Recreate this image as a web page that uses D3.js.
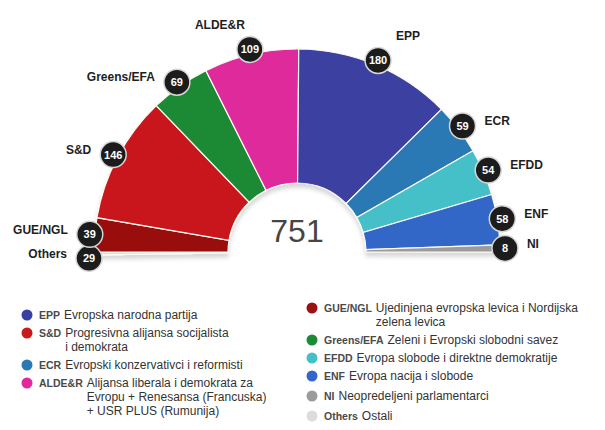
<!DOCTYPE html>
<html><head><meta charset="utf-8">
<script src="https://cdn.jsdelivr.net/npm/d3@7"></script>
<style>
body{margin:0;background:#fff}
svg{display:block;font-family:"Liberation Sans",Arial,sans-serif}
</style>
</head><body>
<svg id="chart" width="605" height="430"></svg>
<script>
// ---- data (left to right around the hemicycle; "Others" drawn as base band) ----
const parties = ["GUE/NGL","S&D","Greens/EFA","ALDE&R","EPP","ECR","EFDD","ENF","NI","Others"];
const seats   = [39, 146, 69, 109, 180, 59, 54, 58, 8, 29];
const colors  = ["#9a1111","#c8191c","#1c8a35","#de2a9b","#3a3fa1","#2a79b4","#45c0c9","#3266c7","#9b9b9b","#dcdcdc"];
const baseBand = ["Others"];
const legendLeft  = ["EPP","S&D","ECR","ALDE&R"];
const legendLeftText = [
  ["Evropska narodna partija"],
  ["Progresivna alijansa socijalista","i demokrata"],
  ["Evropski konzervativci i reformisti"],
  ["Alijansa liberala i demokrata za","Evropu + Renesansa (Francuska)","+ USR PLUS (Rumunija)"]
];
const legendRight = ["GUE/NGL","Greens/EFA","EFDD","ENF","NI","Others"];
const legendRightText = [
  ["Ujedinjena evropska levica i Nordijska","zelena levica"],
  ["Zeleni i Evropski slobodni savez"],
  ["Evropa slobode i direktne demokratije"],
  ["Evropa nacija i slobode"],
  ["Neopredeljeni parlamentarci"],
  ["Ostali"]
];

// ---- layout ----
const svg = d3.select("#chart");
const cx = 297, cy = 252, R = 203, r0 = 69;
const badgeR = 13, badgeDist = 208;
const colorOf = d3.scaleOrdinal().domain(parties).range(colors);

const defs = svg.append("defs");
const f = defs.append("filter").attr("id","sh").attr("x","-10%").attr("y","-10%").attr("width","120%").attr("height","130%");
f.append("feDropShadow").attr("dx",0).attr("dy",4).attr("stdDeviation",2).attr("flood-color","#000").attr("flood-opacity",0.16);

const seatedIdx = parties.map((p,i)=>i).filter(i=>!baseBand.includes(parties[i]));
const seatedTotal = d3.sum(seatedIdx, i=>seats[i]);
const angle = d3.scaleLinear().domain([0, seatedTotal]).range([-Math.PI/2, Math.PI/2]);

const slices = [];
let cum = 0;
seatedIdx.forEach(i=>{
  slices.push({party:parties[i], value:seats[i], start:angle(cum), end:angle(cum+seats[i])});
  cum += seats[i];
});
parties.forEach((p,i)=>{
  if (baseBand.includes(p)) slices.unshift({party:p, value:seats[i], start:-Math.PI/2-0.014, end:-Math.PI/2});
});

const arc = d3.arc().innerRadius(r0).outerRadius(R);
const g = svg.append("g").attr("transform",`translate(${cx},${cy})`);
g.append("g").attr("filter","url(#sh)")
 .selectAll("path").data(slices).join("path")
 .attr("d", d=>arc({startAngle:d.start,endAngle:d.end}))
 .attr("fill", d=>colorOf(d.party))
 .attr("stroke","#fbfaf2").attr("stroke-width",1.2);

// centre total
g.append("text").attr("x",0).attr("y",-10).attr("text-anchor","middle")
 .attr("font-size",32).attr("fill","#454545").text(d3.sum(seats));

// badges
const badges = slices.map(d=>{
  const a = (d.start+d.end)/2;
  return {party:d.party, value:d.value, a, x:badgeDist*Math.sin(a), y:-badgeDist*Math.cos(a)};
}).sort((p,q)=>p.a-q.a);
// simple collision avoidance: push lower-angle badge downward
for (let k=badges.length-2;k>=0;k--){
  const p = badges[k], q = badges[k+1];
  const dx = p.x-q.x, dy = p.y-q.y, d = Math.hypot(dx,dy), minD = 24;
  if (d < minD) p.y = q.y + Math.sqrt(Math.max(0,minD*minD-dx*dx));
}
const bg = g.append("g").selectAll("g").data(badges).join("g")
 .attr("transform", d=>`translate(${d.x},${d.y})`);
bg.append("circle").attr("r",badgeR).attr("fill","#1c1c1c").attr("stroke","#d6d6d6").attr("stroke-width",1.5);
bg.append("text").attr("text-anchor","middle").attr("dy","0.36em")
 .attr("font-size",11).attr("font-weight","bold").attr("fill","#fff").text(d=>d.value);

// party names
g.append("g").selectAll("text").data(badges).join("text")
 .attr("font-size",12).attr("font-weight","bold").attr("fill","#1e1e1e").attr("dy","0.35em")
 .each(function(d){
   const s = Math.sin(d.a), side = s<0?-1:1, t = d3.select(this);
   if (Math.abs(s) < 0.5){
     t.attr("text-anchor","middle").attr("x", d.x + side*30).attr("y", d.y - 25);
   } else {
     t.attr("text-anchor", side<0?"end":"start").attr("x", d.x + side*22).attr("y", d.y - 5);
   }
 }).text(d=>d.party);

// ---- legend ----
function legend(names, texts, x0, y0, gaps){
  const lg = svg.append("g");
  let y = y0;
  names.forEach((n,i)=>{
    const row = lg.append("g").attr("transform",`translate(${x0},${y})`);
    row.append("circle").attr("cx",0).attr("cy",0).attr("r",5.5).attr("fill",colorOf(n));
    const ab = row.append("text").attr("x",12).attr("dy","0.35em").attr("font-size",10.5)
      .attr("font-weight","bold").attr("fill","#4a4a4a").text(n);
    const w = ab.node().getComputedTextLength();
    texts[i].forEach((line,j)=>{
      row.append("text").attr("x",12+w+4).attr("y",j*14).attr("dy","0.35em")
        .attr("font-size",12).attr("fill","#333").text(line);
    });
    y += (texts[i].length-1)*14 + (gaps[i]||18);
  });
}
legend(legendLeft, legendLeftText, 27, 315, [18,18,18,18]);
legend(legendRight, legendRightText, 312, 308, [18,18,18,20,20,20]);
</script>
</body></html>
